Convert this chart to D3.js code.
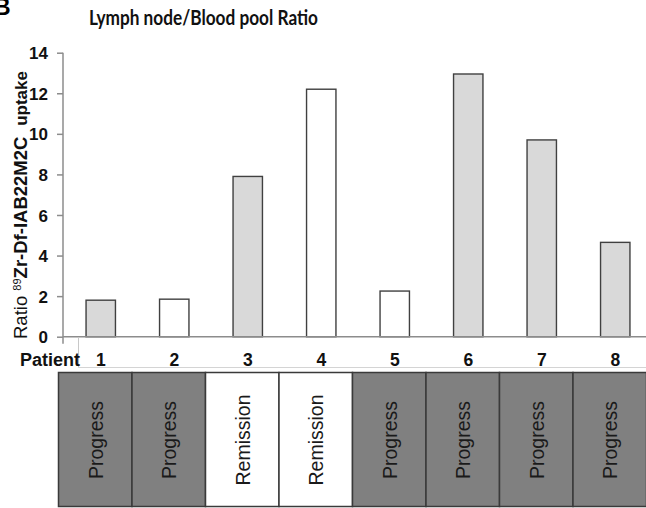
<!DOCTYPE html>
<html>
<head>
<meta charset="utf-8">
<script src="https://cdn.jsdelivr.net/npm/d3@7"></script>
<style>
body { margin: 0; background: #fff; }
text { font-family: "Liberation Sans", Arial, sans-serif; }
</style>
</head>
<body>
<svg id="chart" width="646" height="508"></svg>
<script>
// values
var patients = ["1", "2", "3", "4", "5", "6", "7", "8"];
var ratio = [1.8, 1.85, 7.9, 12.2, 2.25, 12.95, 9.7, 4.65];
var barShade = ["shaded", "open", "shaded", "open", "open", "shaded", "shaded", "shaded"];
var outcome = ["Progress", "Progress", "Remission", "Remission", "Progress", "Progress", "Progress", "Progress"];
var yTicks = [0, 2, 4, 6, 8, 10, 12, 14];

var data = patients.map(function (p, i) {
  return { patient: p, ratio: ratio[i], shade: barShade[i], outcome: outcome[i] };
});

var svg = d3.select("#chart");

var x = d3.scaleBand().domain(patients).range([64, 652]).paddingInner(0.6).paddingOuter(0.3);
var xTable = d3.scaleBand().domain(patients).range([58.5, 646.5]);
var y = d3.scaleLinear().domain([0, 14]).range([336.7, 52.7]);

var shadeColor = d3.scaleOrdinal().domain(["shaded", "open"]).range(["#d9d9d9", "#ffffff"]);
var outcomeColor = d3.scaleOrdinal().domain(["Progress", "Remission"]).range(["#808080", "#ffffff"]);

// panel letter, clipped at the left edge in the original
svg.append("text")
  .attr("x", -6).attr("y", 15)
  .style("font-size", "23px").style("font-weight", "bold")
  .text("B");

// title
svg.append("text")
  .attr("x", 89).attr("y", 25)
  .attr("textLength", 229).attr("lengthAdjust", "spacingAndGlyphs")
  .style("font-family", "Lato, 'Open Sans', sans-serif")
  .style("font-size", "20px").style("font-weight", "bold")
  .style("fill", "#111")
  .text("Lymph node/Blood pool Ratio");

// y axis
var yAxis = d3.axisLeft(y).tickValues(yTicks).tickSize(6).tickPadding(9).tickFormat(d3.format("d"));
var gy = svg.append("g").attr("transform", "translate(63,0)").call(yAxis);
gy.select(".domain").remove();
gy.append("line").attr("x1", 0).attr("x2", 0).attr("y1", y(14)).attr("y2", y(0) + 7)
  .attr("stroke", "#8c8c8c").attr("stroke-width", 1.5);
gy.selectAll(".tick line").attr("stroke", "#8c8c8c").attr("stroke-width", 1.5);
gy.selectAll(".tick text")
  .style("font-size", "17px").style("font-weight", "bold").style("fill", "#111")
  .attr("dy", "0.36em");

// y label
var ylab = svg.append("text")
  .attr("transform", "translate(27,339) rotate(-90)")
  .style("font-size", "17px").style("fill", "#111");
ylab.append("tspan").style("font-size", "18.5px").text("Ratio ");
ylab.append("tspan").attr("dy", -6).style("font-size", "11px").text("89");
ylab.append("tspan").attr("dy", 6).style("font-weight", "bold").style("font-size", "18.5px").text("Zr-Df-IAB22M2C");
ylab.append("tspan").style("font-weight", "bold").attr("dx", 6).text(" uptake");

// bars
svg.append("g").selectAll("rect")
  .data(data).enter()
  .append("rect")
  .attr("x", function (d) { return x(d.patient); })
  .attr("y", function (d) { return y(d.ratio); })
  .attr("width", x.bandwidth())
  .attr("height", function (d) { return y(0) - y(d.ratio); })
  .attr("fill", function (d) { return shadeColor(d.shade); })
  .attr("stroke", "#404040")
  .attr("stroke-width", 1.4);

// x baseline
svg.append("line")
  .attr("x1", 63).attr("x2", 646).attr("y1", y(0)).attr("y2", y(0))
  .attr("stroke", "#8c8c8c").attr("stroke-width", 1.5);

// faint table guide lines under the patient row
svg.append("line").attr("x1", 78.5).attr("x2", 78.5).attr("y1", y(0) + 1).attr("y2", 367.5)
  .attr("stroke", "#c8c8c8").attr("stroke-width", 1);
svg.append("line").attr("x1", 78.5).attr("x2", 646).attr("y1", 367.5).attr("y2", 367.5)
  .attr("stroke", "#d4d4d4").attr("stroke-width", 1);

// patient row
svg.append("text")
  .attr("x", 80).attr("y", 366).attr("text-anchor", "end")
  .style("font-size", "18px").style("font-weight", "bold").style("fill", "#111")
  .text("Patient");

var xAxis = d3.axisBottom(x).tickSize(0).tickPadding(0);
var gx = svg.append("g").attr("transform", "translate(0,366)").call(xAxis);
gx.select(".domain").remove();
gx.selectAll(".tick text")
  .attr("y", 0).attr("dy", 0)
  .style("font-size", "17.5px").style("font-weight", "bold").style("fill", "#111");

// outcome table
var cells = svg.append("g").selectAll("g")
  .data(data).enter()
  .append("g");

cells.append("rect")
  .attr("x", function (d) { return xTable(d.patient); })
  .attr("y", 372.5)
  .attr("width", xTable.bandwidth())
  .attr("height", 134)
  .attr("fill", function (d) { return outcomeColor(d.outcome); })
  .attr("stroke", "#3a3a3a")
  .attr("stroke-width", 1.5);

cells.append("text")
  .attr("transform", function (d) {
    return "translate(" + (xTable(d.patient) + xTable.bandwidth() / 2 + 7.5) + ",440) rotate(-90)";
  })
  .attr("text-anchor", "middle")
  .style("font-size", "19.5px").style("fill", "#1a1a1a")
  .text(function (d) { return d.outcome; });
</script>
</body>
</html>
